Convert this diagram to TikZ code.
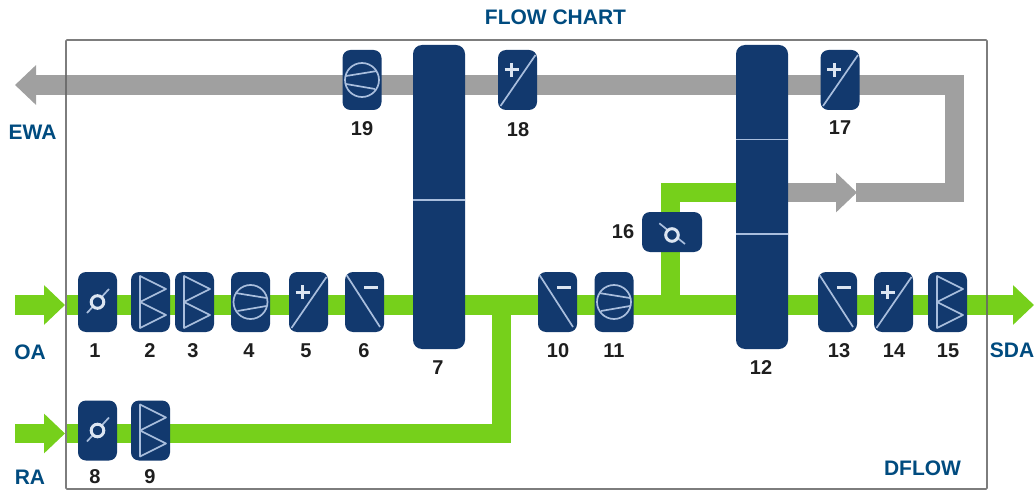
\documentclass[tikz,border=0pt]{standalone}
\usepackage{fontspec}
\setmainfont{Liberation Sans}
\usetikzlibrary{arrows.meta,backgrounds}
\definecolor{navy}{HTML}{12396E}
\definecolor{airgreen}{HTML}{76D01B}
\definecolor{airgray}{HTML}{A0A0A0}
\definecolor{titleblue}{HTML}{004B7F}
\definecolor{numdark}{HTML}{1E1E1E}
\definecolor{iconline}{HTML}{A9BEDD}
\definecolor{iconbright}{HTML}{DCE5F1}
\tikzset{
  unit/.style={fill=navy,rounded corners=8pt,inner sep=0pt,outer sep=0pt,minimum width=39pt,minimum height=60pt},
  tallunit/.style={fill=navy,rounded corners=9pt,inner sep=0pt,outer sep=0pt,minimum width=52pt,minimum height=304pt},
  wideunit/.style={fill=navy,rounded corners=8pt,inner sep=0pt,outer sep=0pt,minimum width=60pt,minimum height=40pt},
  num/.style={font=\fontsize{20}{20}\selectfont\bfseries,text=numdark,inner sep=0pt},
  tag/.style={font=\fontsize{21}{21}\selectfont\bfseries,text=titleblue,inner sep=0pt},
  greenflow/.style={draw=airgreen,line width=19.5pt,line join=miter},
  grayflow/.style={draw=airgray,line width=19.5pt,line join=miter},
  arrowtip/.style={-{Triangle[length=21pt,width=38.5pt]}},
  thinicon/.style={draw=iconline,line width=1.7pt},
  brighticon/.style={draw=iconbright,line width=3pt},
  pics/dampericon/.style={code={
    \draw[thinicon] (-10.5,11) -- (11.5,-13);
    \draw[brighticon,fill=navy] (0,0) circle (6.3);
  }},
  pics/bypassicon/.style={code={
    \draw[thinicon] (-12.7,-11.7) -- (13,9);
    \draw[brighticon,fill=navy] (0,0) circle (6.3);
  }},
  pics/filtericon/.style={code={
    \draw[thinicon,line join=round] (-10.5,-26) -- (15.5,-13) -- (-10.5,0) -- (15.5,13) -- (-10.5,26) -- cycle;
  }},
  pics/fanicon/.style={code={
    \draw[thinicon] (0,0) circle (17);
    \draw[thinicon] (-15,-9) -- (16,-4);
    \draw[thinicon] (-13,9) -- (16,4);
  }},
  pics/fanbackicon/.style={code={
    \draw[thinicon] (0,0) circle (17);
    \draw[thinicon] (15,-9) -- (-16,-4);
    \draw[thinicon] (13,9) -- (-16,4);
  }},
  pics/heaticon/.style={code={
    \draw[thinicon] (-17,26) -- (18,-25);
    \draw[brighticon] (-13,-10) -- (1,-10) (-6,-17) -- (-6,-3);
  }},
  pics/coolicon/.style={code={
    \draw[thinicon] (-18,-27) -- (15.5,25);
    \draw[brighticon] (-0.5,-15) -- (13.5,-15);
  }}
}
\begin{document}
\begin{tikzpicture}[x=1pt,y=-1pt]
\useasboundingbox (0,0) rectangle (1034,492);
% units
\node[unit] (n1) at (97.5,302) {};
\node[unit] (n2) at (150.5,302) {};
\node[unit] (n3) at (194.5,302) {};
\node[unit] (n4) at (250.5,302) {};
\node[unit] (n5) at (308.5,302) {};
\node[unit] (n6) at (364.5,302) {};
\node[tallunit] (n7) at (439,197) {};
\node[unit] (n8) at (97.5,430.5) {};
\node[unit] (n9) at (150.5,430.5) {};
\node[unit] (n10) at (557.5,302) {};
\node[unit] (n11) at (614,302) {};
\node[tallunit] (n12) at (762,197) {};
\node[unit] (n13) at (837.5,302) {};
\node[unit] (n14) at (893.5,302) {};
\node[unit] (n15) at (947.5,302) {};
\node[wideunit] (n16) at (672,232) {};
\node[unit] (n17) at (840,80) {};
\node[unit] (n18) at (517.5,80) {};
\node[unit] (n19) at (362,80) {};
% icons
\pic at (n1.center) {dampericon};
\pic at (n8.center) {dampericon};
\pic at ([yshift=-3pt]n16.center) {bypassicon};
\pic at (n2.center) {filtericon};
\pic at (n3.center) {filtericon};
\pic at (n9.center) {filtericon};
\pic at (n15.center) {filtericon};
\pic at (n4.center) {fanicon};
\pic at (n11.center) {fanicon};
\pic at (n19.center) {fanbackicon};
\pic at (n5.center) {heaticon};
\pic at (n14.center) {heaticon};
\pic at (n17.center) {heaticon};
\pic at (n18.center) {heaticon};
\pic at (n6.center) {coolicon};
\pic at (n10.center) {coolicon};
\pic at (n13.center) {coolicon};
% divisions in the tall units
\draw[iconline,line width=1.2pt] (n7.west |- 0,200) -- (n7.east |- 0,200);
\draw[iconline,line width=1.2pt] (n12.west |- 0,139.5) -- (n12.east |- 0,139.5);
\draw[iconline,line width=1.2pt] (n12.west |- 0,234) -- (n12.east |- 0,234);
% coordinates
\coordinate (oaFrom) at (15,305);
\coordinate (oaTip) at (65,305);
\coordinate (oaRow) at (67,305);
\coordinate (raFrom) at (15,433.5);
\coordinate (raTip) at (65,433.5);
\coordinate (raRow) at (67,433.5);
\coordinate (joinA) at (501.5,305);
\coordinate (joinB) at (670.5,305);
\coordinate (sdaTip) at (1034,305);
\coordinate (bend) at (670.5,192.5);
\coordinate (midTip) at (857,192.5);
\coordinate (retFrom) at (856,192.5);
\coordinate (retCorner) at (954.5,192.5);
\coordinate (topCorner) at (954.5,85);
\coordinate (ewaTip) at (15,85);
% flows and frame, behind the units
\begin{scope}[on background layer]
  \draw[greenflow,arrowtip] (oaFrom) -- (oaTip);
  \draw[greenflow,arrowtip] (raFrom) -- (raTip);
  \draw[greenflow] (oaRow) -- (oaRow -| n7.center);
  \draw[greenflow] (oaRow -| n7.center) -- (oaRow -| n12.center);
  \draw[greenflow,arrowtip] (oaRow -| n12.center) -- (sdaTip);
  \draw[greenflow] (raRow) -| (joinA);
  \draw[greenflow] (joinB) -- (bend) -- (bend -| n12.center);
  \draw[grayflow,arrowtip] (bend -| n12.center) -- (midTip);
  \draw[grayflow] (retFrom) -- (retCorner) -- (topCorner) -- (topCorner -| n12.center);
  \draw[grayflow] (topCorner -| n12.center) -- (topCorner -| n7.center);
  \draw[grayflow,arrowtip] (topCorner -| n7.center) -- (ewaTip);
  \draw[draw=black!60,draw opacity=0.85,line width=1.6pt,rounded corners=1pt] (66,40) rectangle (987,489);
\end{scope}
% numbers
\node[num] (l1) at (95,351) {1};
\node[num] (l2) at (150,351) {2};
\node[num] (l3) at (193,351) {3};
\node[num] (l4) at (249,351) {4};
\node[num] (l5) at (306,351) {5};
\node[num] (l6) at (364,351) {6};
\node[num] (l7) at (438,368) {7};
\node[num] (l8) at (95,477) {8};
\node[num] (l9) at (150,477) {9};
\node[num] (l10) at (558,351) {10};
\node[num] (l11) at (614,351) {11};
\node[num] (l12) at (761,368) {12};
\node[num] (l13) at (839,351) {13};
\node[num] (l14) at (894,351) {14};
\node[num] (l15) at (948,351) {15};
\node[num] (l16) at (623,232) {16};
\node[num] (l17) at (840,128) {17};
\node[num] (l18) at (518,130) {18};
\node[num] (l19) at (362,129) {19};
% tags
\node[tag] (title) at (555.5,17) {FLOW CHART};
\node[tag] (ewa) at (32.5,132) {EWA};
\node[tag] (oa) at (30,352) {OA};
\node[tag] (ra) at (30,477) {RA};
\node[tag] (sda) at (1012,350) {SDA};
\node[tag] (dflow) at (922.5,468) {DFLOW};
\end{tikzpicture}
\end{document}
